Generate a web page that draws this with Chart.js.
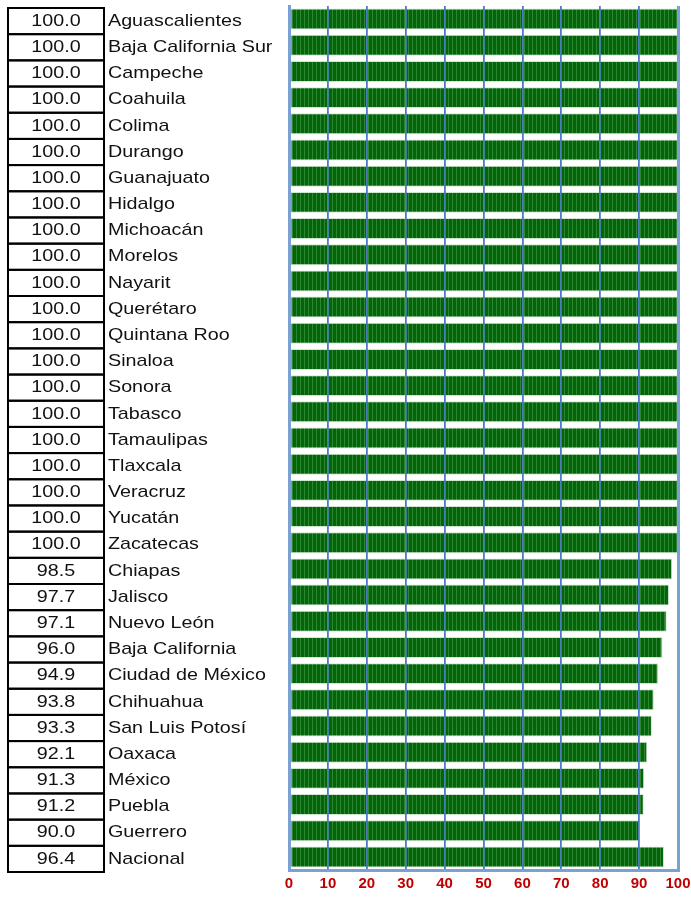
<!DOCTYPE html>
<html>
<head>
<meta charset="utf-8">
<script src="https://cdn.jsdelivr.net/npm/chart.js@4"></script>
<style>
  body { margin: 0; background: #fff; }
  #wrap { width: 691px; height: 899px; position: relative; }
</style>
</head>
<body>
<div id="wrap"><canvas id="coverageChart"></canvas></div>
<script>
// states, top to bottom
let states = [
  'Aguascalientes', 'Baja California Sur', 'Campeche', 'Coahuila', 'Colima',
  'Durango', 'Guanajuato', 'Hidalgo', 'Michoacán', 'Morelos', 'Nayarit',
  'Querétaro', 'Quintana Roo', 'Sinaloa', 'Sonora', 'Tabasco', 'Tamaulipas',
  'Tlaxcala', 'Veracruz', 'Yucatán', 'Zacatecas', 'Chiapas', 'Jalisco',
  'Nuevo León', 'Baja California', 'Ciudad de México', 'Chihuahua',
  'San Luis Potosí', 'Oaxaca', 'México', 'Puebla', 'Guerrero', 'Nacional'
];
let values = [
  100.0, 100.0, 100.0, 100.0, 100.0, 100.0, 100.0, 100.0, 100.0, 100.0, 100.0,
  100.0, 100.0, 100.0, 100.0, 100.0, 100.0, 100.0, 100.0, 100.0, 100.0,
  98.5, 97.7, 97.1, 96.0, 94.9, 93.8, 93.3, 92.1, 91.3, 91.2, 90.0, 96.4
];
let xTicks = [0, 10, 20, 30, 40, 50, 60, 70, 80, 90, 100];

// striped green fill like the original
let pc = document.createElement('canvas');
pc.width = 4; pc.height = 1;
let pctx = pc.getContext('2d');
pctx.fillStyle = '#03650a';
pctx.fillRect(0, 0, 4, 1);
pctx.fillStyle = '#2f8632';
pctx.fillRect(0, 0, 1, 1);
let stripes = pctx.createPattern(pc, 'repeat');

function stretchedText(ctx, txt, x, y, sx) {
  ctx.save();
  ctx.translate(x, y);
  ctx.scale(sx, 1);
  ctx.fillText(txt, 0, 0);
  ctx.restore();
}

// value boxes and state names on the left
let tablePlugin = {
  id: 'sideTable',
  afterDraw(chart) {
    let ctx = chart.ctx;
    let y = chart.scales.y;
    let half = (y.getPixelForValue(1) - y.getPixelForValue(0)) / 2;
    ctx.save();
    ctx.font = '17px "Liberation Sans", Arial, sans-serif';
    ctx.textBaseline = 'middle';
    states.forEach((name, i) => {
      let cy = y.getPixelForValue(i) + 2;
      ctx.strokeStyle = '#000';
      ctx.lineWidth = 2;
      ctx.strokeRect(8, cy - half, 96, half * 2);
      ctx.fillStyle = '#111';
      let v = values[i].toFixed(1);
      let w = ctx.measureText(v).width * 1.16;
      stretchedText(ctx, v, 56 - w / 2, cy, 1.16);
      stretchedText(ctx, name, 108, cy, 1.16);
    });
    ctx.restore();
  }
};

let isEdge = (c) => c.tick && (c.tick.value === 0 || c.tick.value === 100);

new Chart(document.getElementById('coverageChart'), {
  type: 'bar',
  data: {
    labels: states,
    datasets: [{
      data: values,
      backgroundColor: stripes,
      borderColor: '#cfe6cf',
      borderWidth: 1,
      borderSkipped: false,
      categoryPercentage: 1,
      barPercentage: 0.8
    }]
  },
  plugins: [tablePlugin],
  options: {
    indexAxis: 'y',
    responsive: true,
    maintainAspectRatio: false,
    animation: false,
    layout: { padding: { left: 289, right: 13, top: 6, bottom: 1 } },
    plugins: { legend: { display: false }, tooltip: { enabled: false } },
    scales: {
      x: {
        min: 0,
        max: 100,
        afterBuildTicks: (axis) => { axis.ticks = xTicks.map(v => ({ value: v })); },
        afterFit: (axis) => { axis.paddingLeft = 0; axis.paddingRight = 0; },
        grid: {
          z: 1,
          color: (c) => isEdge(c) ? '#7ba0d2' : '#4a7ebb',
          lineWidth: (c) => isEdge(c) ? 3 : 1.8,
          drawTicks: false,
          tickLength: 0
        },
        border: { color: '#7ba0d2', width: 3, z: 2 },
        ticks: {
          color: '#c00000',
          font: { family: '"Liberation Sans", Arial, sans-serif', size: 15, weight: 'bold' },
          padding: 5,
          maxRotation: 0
        }
      },
      y: {
        grid: { display: false, drawTicks: false, tickLength: 0 },
        border: { color: '#7ba0d2', width: 3, z: 2 },
        ticks: { display: false, padding: 0 }
      }
    }
  }
});
</script>
</body>
</html>
